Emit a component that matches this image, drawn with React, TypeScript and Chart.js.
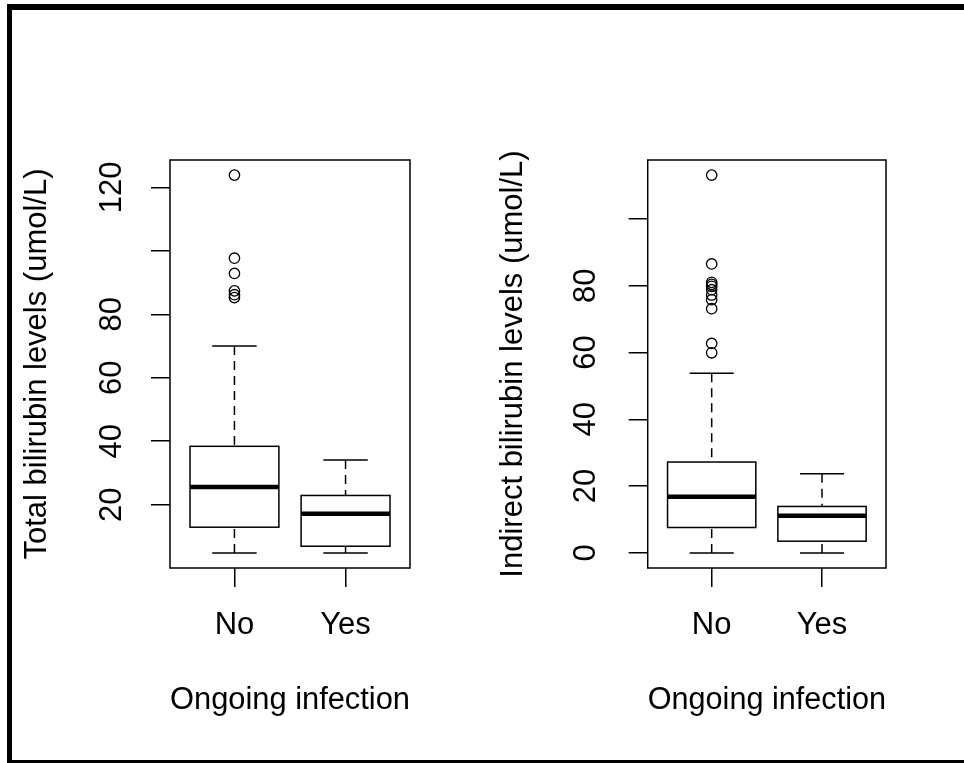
import React, { useEffect, useRef } from 'react';
import { Chart, registerables } from 'chart.js';

Chart.register(...registerables);

// ---------- data ----------
const groups = ['No', 'Yes'];
const xTitle = 'Ongoing infection';

// Panel 1: total bilirubin
const totalTitle = 'Total bilirubin levels (umol/L)';
const totalLowerWhisker = [4.8, 4.8];
const totalQ1 = [12.9, 6.9];
const totalMedian = [25.6, 17.1];
const totalQ3 = [38.4, 22.9];
const totalUpperWhisker = [70.0, 34.1];
const totalOutliersNo = [123.9, 97.7, 92.9, 87.4, 86.2, 85.3];
const totalOutliersYes: number[] = [];
const totalTicks = [20, 40, 60, 80, 100, 120];
const totalTickLabels = ['20', '40', '60', '80', '', '120'];

// Panel 2: indirect bilirubin
const indirectTitle = 'Indirect bilirubin levels (umol/L)';
const indirectLowerWhisker = [0, 0];
const indirectQ1 = [7.6, 3.5];
const indirectMedian = [16.8, 11.1];
const indirectQ3 = [27.2, 13.9];
const indirectUpperWhisker = [53.8, 23.7];
const indirectOutliersNo = [113.1, 86.5, 81.0, 80.4, 79.8, 78.8, 77.2, 75.8, 73.1, 62.7, 59.9];
const indirectOutliersYes: number[] = [];
const indirectTicks = [0, 20, 40, 60, 80, 100];
const indirectTickLabels = ['0', '20', '40', '60', '80', ''];

// ---------- styling ----------
const FONT = { family: "'Liberation Sans', Arial, sans-serif", size: 31, lineHeight: 1.2 };
const CANVAS_W = 482;
const CANVAS_H = 763;
const AREA_TOP = 160;
const AREA_BOTTOM = 568;

type PanelProps = {
  title: string;
  lower: number[];
  q1: number[];
  median: number[];
  q3: number[];
  upper: number[];
  outliers: number[][];
  ticks: number[];
  tickLabels: string[];
  areaLeft: number;
  areaRight: number;
  yTitlePad: number;
  yTickPad: number;
  left: number;
};

function Panel(p: PanelProps) {
  const ref = useRef<HTMLCanvasElement>(null);

  useEffect(() => {
    if (!ref.current) return;
    const all = [...p.lower, ...p.upper, ...p.outliers.flat()];
    const lo = Math.min(...all);
    const hi = Math.max(...all);
    const ext = (hi - lo) * 0.04;
    const points = p.outliers.flatMap((vals, i) => vals.map((v) => ({ x: i + 1, y: v })));

    const boxPlugin = {
      id: 'rBoxes',
      beforeDatasetsDraw(chart: any) {
        const { ctx, chartArea: a } = chart;
        const xs = chart.scales.x;
        const ys = chart.scales.y;
        ctx.save();
        ctx.strokeStyle = '#000';
        ctx.lineCap = 'butt';
        groups.forEach((_, i) => {
          const cx = xs.getPixelForValue(i + 1);
          const bl = xs.getPixelForValue(i + 1 - 0.4);
          const br = xs.getPixelForValue(i + 1 + 0.4);
          const cl = xs.getPixelForValue(i + 1 - 0.2);
          const cr = xs.getPixelForValue(i + 1 + 0.2);
          const yLo = ys.getPixelForValue(p.lower[i]);
          const yQ1 = ys.getPixelForValue(p.q1[i]);
          const yMed = ys.getPixelForValue(p.median[i]);
          const yQ3 = ys.getPixelForValue(p.q3[i]);
          const yUp = ys.getPixelForValue(p.upper[i]);
          // dashed whiskers
          ctx.lineWidth = 1.5;
          ctx.setLineDash([9, 6]);
          ctx.beginPath();
          ctx.moveTo(cx, yUp);
          ctx.lineTo(cx, yQ3);
          ctx.moveTo(cx, yLo);
          ctx.lineTo(cx, yQ1);
          ctx.stroke();
          ctx.setLineDash([]);
          // caps
          ctx.beginPath();
          ctx.moveTo(cl, yUp);
          ctx.lineTo(cr, yUp);
          ctx.moveTo(cl, yLo);
          ctx.lineTo(cr, yLo);
          ctx.stroke();
          // box
          ctx.strokeRect(bl, yQ3, br - bl, yQ1 - yQ3);
          // median
          ctx.lineWidth = 4.5;
          ctx.beginPath();
          ctx.moveTo(bl, yMed);
          ctx.lineTo(br, yMed);
          ctx.stroke();
        });
        ctx.lineWidth = 1.5;
        ctx.strokeRect(a.left, a.top, a.right - a.left, a.bottom - a.top);
        ctx.restore();
      },
    };

    const chart = new Chart(ref.current, {
      type: 'scatter',
      data: {
        datasets: [
          {
            data: points,
            pointRadius: 5.2,
            pointHoverRadius: 5.2,
            pointBorderWidth: 1.3,
            pointBackgroundColor: 'rgba(0,0,0,0)',
            pointBorderColor: '#000',
            showLine: false,
          },
        ],
      },
      options: {
        animation: false,
        responsive: false,
        events: [],
        layout: { padding: { left: 0, top: AREA_TOP, right: CANVAS_W - p.areaRight, bottom: 0 } },
        plugins: { legend: { display: false }, tooltip: { enabled: false } },
        scales: {
          x: {
            type: 'linear',
            min: 0.42,
            max: 2.58,
            afterBuildTicks: (s: any) => {
              s.ticks = groups.map((_, i) => ({ value: i + 1 }));
            },
            afterFit: (s: any) => {
              s.height = CANVAS_H - AREA_BOTTOM;
            },
            ticks: {
              autoSkip: false,
              minRotation: 0,
              maxRotation: 0,
              padding: 19.5,
              font: FONT,
              color: '#000',
              callback: (v: any) => groups[Math.round(v) - 1] ?? '',
            },
            grid: {
              drawOnChartArea: false,
              drawTicks: true,
              tickLength: 19,
              color: '#000',
              lineWidth: 1.5,
              tickWidth: 1.5,
            },
            border: { display: false },
            title: { display: true, text: xTitle, font: FONT, color: '#000', padding: { top: 0, bottom: 43.5 } },
          },
          y: {
            type: 'linear',
            min: lo - ext,
            max: hi + ext,
            afterBuildTicks: (s: any) => {
              s.ticks = p.ticks.map((v) => ({ value: v }));
            },
            afterFit: (s: any) => {
              s.width = p.areaLeft;
            },
            ticks: {
              autoSkip: false,
              minRotation: 90,
              maxRotation: 90,
              crossAlign: 'center',
              padding: p.yTickPad,
              font: FONT,
              color: '#000',
              callback: (v: any) => {
                const k = p.ticks.indexOf(Number(v));
                return k >= 0 ? p.tickLabels[k] : '';
              },
            },
            grid: {
              drawOnChartArea: false,
              drawTicks: true,
              tickLength: 19,
              color: '#000',
              lineWidth: 1.5,
              tickWidth: 1.5,
            },
            border: { display: false },
            title: { display: true, text: p.title, font: FONT, color: '#000', padding: { top: p.yTitlePad, bottom: 0 } },
          },
        },
      } as any,
      plugins: [boxPlugin],
    });
    return () => chart.destroy();
  }, []);

  return (
    <canvas
      ref={ref}
      width={CANVAS_W}
      height={CANVAS_H}
      style={{ position: 'absolute', left: p.left, top: 0, width: CANVAS_W, height: CANVAS_H }}
    />
  );
}

export default function App() {
  return (
    <div style={{ position: 'absolute', left: 0, top: 0, width: 964, height: 763, background: '#fff', overflow: 'hidden' }}>
      <Panel
        title={totalTitle}
        lower={totalLowerWhisker}
        q1={totalQ1}
        median={totalMedian}
        q3={totalQ3}
        upper={totalUpperWhisker}
        outliers={[totalOutliersNo, totalOutliersYes]}
        ticks={totalTicks}
        tickLabels={totalTickLabels}
        areaLeft={170}
        areaRight={410}
        yTitlePad={18.8}
        yTickPad={13.1}
        left={0}
      />
      <Panel
        title={indirectTitle}
        lower={indirectLowerWhisker}
        q1={indirectQ1}
        median={indirectMedian}
        q3={indirectQ3}
        upper={indirectUpperWhisker}
        outliers={[indirectOutliersNo, indirectOutliersYes]}
        ticks={indirectTicks}
        tickLabels={indirectTickLabels}
        areaLeft={165.7}
        areaRight={404}
        yTitlePad={13.2}
        yTickPad={24.6}
        left={482}
      />
      {/* outer frame */}
      <div style={{ position: 'absolute', left: 7, top: 4, width: 957, height: 6, background: '#000' }} />
      <div style={{ position: 'absolute', left: 7, top: 4, width: 5, height: 759, background: '#000' }} />
      <div style={{ position: 'absolute', left: 7, top: 760, width: 957, height: 3, background: '#000' }} />
    </div>
  );
}
